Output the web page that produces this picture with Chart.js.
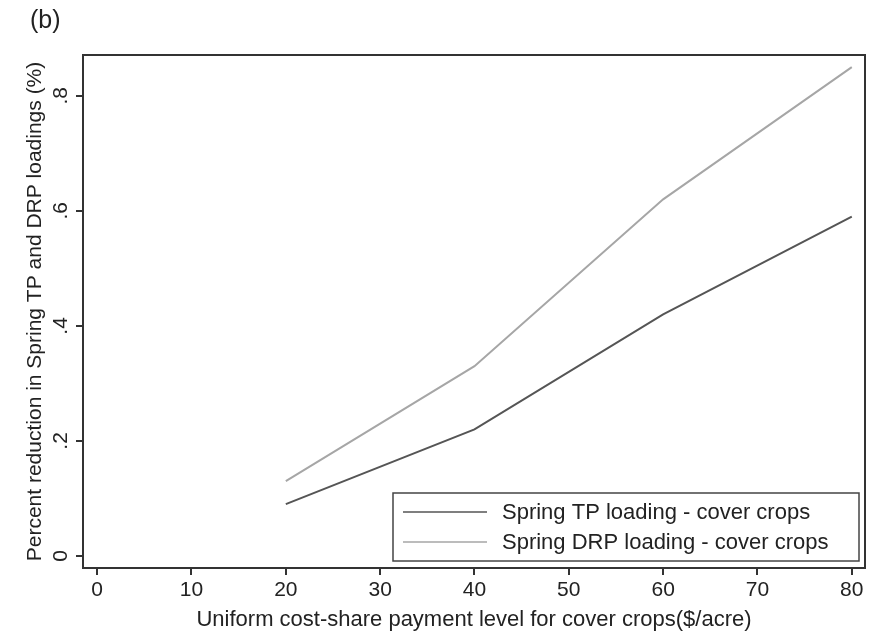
<!DOCTYPE html>
<html>
<head>
<meta charset="utf-8">
<script src="https://cdn.jsdelivr.net/npm/chart.js@4/dist/chart.umd.min.js"></script>
<style>
  html, body { margin: 0; padding: 0; background: #fff; }
  #wrap { width: 871px; height: 633px; position: relative; }
</style>
</head>
<body>
<div id="wrap"><canvas id="chart"></canvas></div>
<script>
// Payment levels and reductions
const payments = [20, 40, 60, 80];
const tpReduction = [0.09, 0.22, 0.42, 0.59];
const drpReduction = [0.13, 0.33, 0.62, 0.85];
const xTicks = [0, 10, 20, 30, 40, 50, 60, 70, 80];
const yTicks = [0, 0.2, 0.4, 0.6, 0.8];
const yTickLabels = ['0', '.2', '.4', '.6', '.8'];

const FONT = 'Liberation Sans, Arial, sans-serif';

function toPoints(xs, ys) {
    return xs.map((x, i) => ({ x: x, y: ys[i] }));
}

// box round the plot, rotated y labels, panel letter and the inset legend
const framePlugin = {
    id: 'frame',
    afterDraw(chart) {
        const ctx = chart.ctx;
        const a = chart.chartArea;
        const yScale = chart.scales.y;
        ctx.save();
        ctx.strokeStyle = '#333';
        ctx.lineWidth = 2;
        ctx.strokeRect(a.left, a.top, a.right - a.left, a.bottom - a.top);

        ctx.fillStyle = '#222';
        ctx.font = '21px ' + FONT;
        ctx.textAlign = 'center';
        ctx.textBaseline = 'middle';
        yTicks.forEach((v, i) => {
            const py = yScale.getPixelForValue(v);
            ctx.save();
            ctx.translate(61, py);
            ctx.rotate(-Math.PI / 2);
            ctx.fillText(yTickLabels[i], 0, 0);
            ctx.restore();
        });

        ctx.font = '25px ' + FONT;
        ctx.textAlign = 'left';
        ctx.fillText('(b)', 30, 21);

        // legend
        const lx = 393, ly = 493, lw = 466, lh = 68;
        ctx.fillStyle = '#fff';
        ctx.fillRect(lx, ly, lw, lh);
        ctx.strokeStyle = '#444';
        ctx.lineWidth = 1.5;
        ctx.strokeRect(lx, ly, lw, lh);
        ctx.font = '22px ' + FONT;
        ctx.textBaseline = 'middle';
        chart.data.datasets.forEach((ds, i) => {
            const ry = 512 + i * 30;
            ctx.strokeStyle = ds.borderColor;
            ctx.lineWidth = 1.5;
            ctx.beginPath();
            ctx.moveTo(403, ry);
            ctx.lineTo(487, ry);
            ctx.stroke();
            ctx.fillStyle = '#222';
            ctx.fillText(ds.label, 502, ry + 1);
        });
        ctx.restore();
    }
};

new Chart(document.getElementById('chart'), {
    type: 'line',
    data: {
        datasets: [{
            label: 'Spring TP loading - cover crops',
            data: toPoints(payments, tpReduction),
            borderColor: '#555555',
            borderWidth: 2,
            pointRadius: 0,
            tension: 0
        }, {
            label: 'Spring DRP loading - cover crops',
            data: toPoints(payments, drpReduction),
            borderColor: '#a6a6a6',
            borderWidth: 2,
            pointRadius: 0,
            tension: 0
        }]
    },
    options: {
        responsive: true,
        maintainAspectRatio: false,
        animation: false,
        layout: { padding: { top: 55, right: 6, left: 23, bottom: 0 } },
        plugins: {
            legend: { display: false },
            tooltip: { enabled: false }
        },
        scales: {
            x: {
                type: 'linear',
                min: -1.5,
                max: 81.4,
                afterBuildTicks: (s) => { s.ticks = xTicks.map(v => ({ value: v })); },
                afterFit: (s) => { s.height = 633 - 568; },
                border: { display: false },
                grid: { drawOnChartArea: false, drawTicks: true, tickLength: 7, color: '#333', lineWidth: 2 },
                ticks: { color: '#222', font: { family: FONT, size: 21 }, padding: 3, maxRotation: 0 },
                title: {
                    display: true,
                    text: 'Uniform cost-share payment level for cover crops($/acre)',
                    color: '#222',
                    font: { family: FONT, size: 22 },
                    padding: { top: 0, bottom: 0 }
                }
            },
            y: {
                type: 'linear',
                min: -0.021,
                max: 0.871,
                afterBuildTicks: (s) => { s.ticks = yTicks.map(v => ({ value: v })); },
                afterFit: (s) => { s.width = 60; },
                border: { display: false },
                grid: { drawOnChartArea: false, drawTicks: true, tickLength: 7, color: '#333', lineWidth: 2 },
                ticks: { color: 'rgba(0,0,0,0)', font: { family: FONT, size: 21 }, callback: () => '' },
                title: {
                    display: true,
                    text: 'Percent reduction in Spring TP and DRP loadings (%)',
                    color: '#222',
                    font: { family: FONT, size: 21 },
                    padding: { top: 0, bottom: 0 }
                }
            }
        }
    },
    plugins: [framePlugin]
});
</script>
</body>
</html>
